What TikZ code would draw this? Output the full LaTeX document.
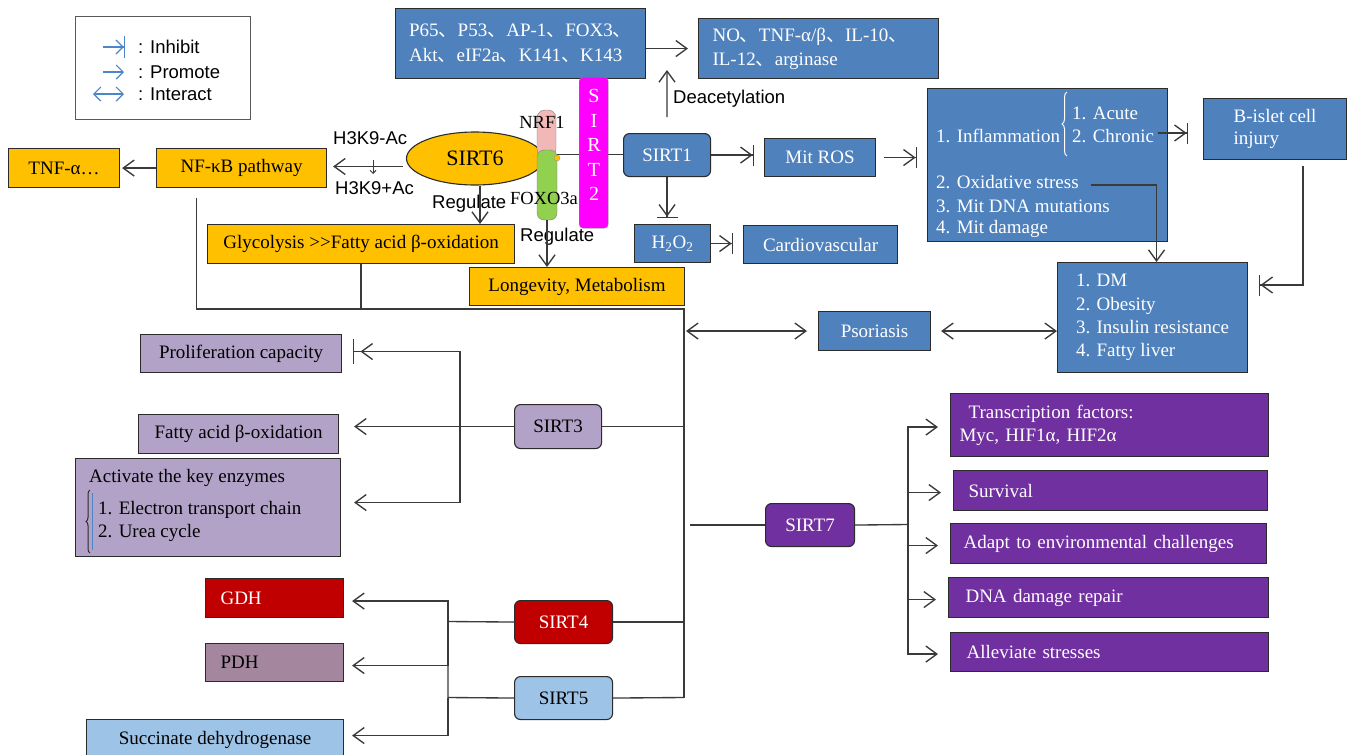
\documentclass[tikz,border=0pt]{standalone}
\usepackage{fontspec}
\setmainfont{Liberation Serif}
\newfontfamily\arialf{Liberation Sans}
\newfontfamily\cjkf{Noto Sans CJK SC}
\usetikzlibrary{arrows.meta,decorations.pathreplacing,calc,shapes.geometric}
\newcommand{\dun}{{\cjkf 、}}
\definecolor{sblue}{HTML}{4F81BD}
\definecolor{sgold}{HTML}{FFC000}
\definecolor{smag}{HTML}{FF00FF}
\definecolor{slav}{HTML}{B3A2C7}
\definecolor{spur}{HTML}{7030A0}
\definecolor{sred}{HTML}{C00000}
\definecolor{smauve}{HTML}{A4879F}
\definecolor{slblue}{HTML}{9DC3E6}
\definecolor{spink}{HTML}{F2B8B8}
\definecolor{sgreen}{HTML}{92D050}
\definecolor{edgec}{HTML}{2B2B2B}
\definecolor{linec}{HTML}{3A3A3A}
\definecolor{legblue}{HTML}{4A86C8}
\begin{document}
\begin{tikzpicture}[x=1pt,y=-1pt,
  txt/.style={font=\fontsize{19}{23.3}\selectfont},
  lab/.style={font=\arialf\fontsize{18.5}{22}\selectfont, inner sep=0pt},
  box/.style={draw=edgec, line width=1.1pt, inner sep=0pt, anchor=north west, txt},
  rbox/.style={rounded corners=6pt},
  wtxt/.style={txt, text=white, inner sep=0pt, anchor=west},
  btxt/.style={txt, text=black, inner sep=0pt, anchor=west},
  pbox/.style={box, fill=spur, text=white, align=left},
  line/.style={draw=linec, line width=1.35pt},
  arr/.style={line, -{Straight Barb[length=11pt,width=16pt]}},
  darr/.style={line, {Straight Barb[length=11pt,width=16pt]}-{Straight Barb[length=11pt,width=16pt]}},
  inh/.style={line, -{Straight Barb[length=11pt,width=16pt] Bar[width=21pt]}},
  inhgap/.style={line, -{Straight Barb[length=11pt,width=16pt,sep=6pt] Bar[width=25pt]}},
  legarr/.style={draw=legblue, line width=1.2pt}
]
\fill[white] (0,0) rectangle (1350,755);
\useasboundingbox (0,0) rectangle (1350,755);

% legend
\node[draw=gray!70!black, line width=1pt, minimum width=175pt, minimum height=103pt, anchor=north west] (legend) at (75,16) {};
\node[lab, anchor=west] (linh) at (138,47) {: Inhibit};
\node[lab, anchor=west] (lpro) at (138,72) {: Promote};
\node[lab, anchor=west] (lint) at (138,94) {: Interact};
\draw[legarr, -{Straight Barb[length=7pt,width=14pt] Bar[width=22pt]}] ($(linh.west)+(-35pt,0)$) -- ($(linh.west)+(-13pt,0)$);
\draw[legarr, -{Straight Barb[length=7pt,width=14pt]}] ($(lpro.west)+(-35pt,0)$) -- ($(lpro.west)+(-14pt,0)$);
\draw[legarr, {Straight Barb[length=7pt,width=14pt]}-{Straight Barb[length=7pt,width=14pt]}] ($(lint.west)+(-45pt,0)$) -- ($(lint.west)+(-14pt,0)$);

% top blue boxes
\node[box, fill=sblue, text=white, minimum width=250pt, minimum height=70pt, align=left, font=\fontsize{19}{25}\selectfont] (p65) at (395,8) {P65\dun P53\dun AP-1\dun FOX3\dun\\Akt\dun eIF2a\dun K141\dun K143};
\node[box, fill=sblue, text=white, minimum width=240pt, minimum height=60pt, align=left, text width=212pt, inner xsep=14pt, font=\fontsize{19}{24}\selectfont] (no) at (698,18) {NO\dun TNF-α/β\dun IL-10\dun\\IL-12\dun arginase};
\coordinate (deacend) at (667,70);
\node[lab, anchor=west] (deac) at (673,99) {Deacetylation};

% gold boxes
\node[box, fill=sgold, minimum width=111pt, minimum height=39pt] (tnf) at (8,148) {TNF-α…};
\node[box, fill=sgold, minimum width=170pt, minimum height=39pt] (nfkb) at (156,148) {NF-κB pathway};
\node[box, fill=sgold, minimum width=307pt, minimum height=39pt] (glyc) at (207,224) {Glycolysis >{}>Fatty acid β-oxidation};
\node[box, fill=sgold, minimum width=215pt, minimum height=38pt] (longev) at (469,267) {Longevity, Metabolism};

% SIRT6 and partners
\node[ellipse, draw=edgec, line width=1.1pt, fill=sgold, minimum width=137pt, minimum height=53pt, inner sep=0pt, font=\fontsize{22}{26}\selectfont] (sirt6) at (475,158.5) {SIRT6};
\node[draw=edgec!60, fill=spink, rounded corners=8pt, minimum width=19pt, minimum height=47pt, inner sep=0pt] (nrf1) at (546.5,133.5) {};
\node[draw=edgec!60, fill=sgreen, rounded corners=7pt, minimum width=20pt, minimum height=70pt, inner sep=0pt] (foxo) at (547,185) {};
\node[circle, fill=sgold, draw=edgec!50, inner sep=0pt, minimum size=6pt] (ydot) at (557,158) {};
\node[inner sep=0pt, font=\fontsize{18.5}{22}\selectfont] (nrflab) at (542,122) {NRF1};
\node[inner sep=0pt, font=\fontsize{18.5}{22}\selectfont] (foxlab) at (544,198) {FOXO3a};
\node[lab, anchor=west] (h3a) at (333,138) {H3K9-Ac};
\node[lab, anchor=west] (h3b) at (335,188) {H3K9+Ac};
\node[lab, anchor=west] (reg1) at (432,204) {Regulate};
\node[lab, anchor=west] (reg2) at (520,237) {Regulate};

% SIRT1 group
\node[box, rbox, fill=sblue, text=white, minimum width=87pt, minimum height=43pt] (sirt1) at (623,133) {SIRT1};
\draw[line] (ydot.north) -- (ydot.north -| sirt1.west);
\node[draw=edgec!60, fill=smag, rounded corners=4pt, minimum width=29pt, minimum height=151pt, inner sep=0pt, anchor=north west] (sirt2) at (579,77) {};
\node[text=white, font=\fontsize{20}{24.5}\selectfont, align=center, inner sep=0pt] (sirt2t) at (594,145) {S\\I\\R\\T\\2};
\node[box, fill=sblue, text=white, minimum width=111pt, minimum height=38pt] (mitros) at (764,138) {Mit ROS};
\node[box, fill=sblue, text=white, minimum width=76pt, minimum height=38pt] (h2o2) at (634,224) {H\textsubscript{2}O\textsubscript{2}};
\node[box, fill=sblue, text=white, minimum width=154pt, minimum height=38pt] (cardio) at (743,225) {Cardiovascular};

% big box
\node[box, fill=sblue, minimum width=240pt, minimum height=153pt] (bigbox) at (927,88) {};
\node[wtxt] (infl) at (936,136) {1. Inflammation};
\node[wtxt] (acute) at (1072,113) {1. Acute};
\node[wtxt] (chronic) at (1072,136) {2. Chronic};
\node[wtxt] (oxid) at (936,182) {2. Oxidative stress};
\node[wtxt] (mitdna) at (936,206) {3. Mit DNA mutations};
\node[wtxt] (mitdam) at (936,229) {4. Mit damage};
\draw[white, line width=1pt, decorate, decoration={brace, amplitude=5pt}] (1067,156) -- (1067,92);

\node[box, fill=sblue, text=white, minimum width=143pt, minimum height=61pt, align=left, font=\fontsize{19}{22}\selectfont] (bislet) at (1203,98) {B-islet cell\\injury};
\node[box, fill=sblue, text=white, minimum width=190pt, minimum height=110pt, align=left] (dm) at (1057,262) {1. DM\\2. Obesity\\3. Insulin resistance\\4. Fatty liver};
\node[box, fill=sblue, text=white, minimum width=112pt, minimum height=39pt] (psor) at (818,311) {Psoriasis};

% SIRT3 group
\node[box, fill=slav, minimum width=201pt, minimum height=38pt] (prolif) at (140,334) {Proliferation capacity};
\node[box, fill=slav, minimum width=200pt, minimum height=39pt] (fatty) at (138,414) {Fatty acid β-oxidation};
\node[box, fill=slav, minimum width=265pt, minimum height=98pt] (activ) at (75,458) {};
\node[btxt] (actt) at (89,478) {Activate the key enzymes};
\node[btxt] (etc) at (98,510) {1. Electron transport chain};
\node[btxt] (urea) at (98,533) {2. Urea cycle};
\draw[edgec, line width=1pt, decorate, decoration={brace, amplitude=4pt}] (90,553) -- (90,490);
\draw[legblue, line width=1.3pt] (92.5,493) -- (92.5,550);
\node[box, rbox, fill=slav, minimum width=87pt, minimum height=44pt] (sirt3) at (514,404) {SIRT3};

% SIRT4/5 group
\node[box, fill=sred, text=white, minimum width=138pt, minimum height=39pt, align=left, text width=108pt, inner xsep=15pt] (gdh) at (205,578) {GDH};
\node[box, fill=smauve, minimum width=138pt, minimum height=38pt, align=left, text width=108pt, inner xsep=15pt] (pdh) at (205,643) {PDH};
\node[box, fill=slblue, minimum width=257pt, minimum height=40pt] (succ) at (86,719) {Succinate dehydrogenase};
\node[box, rbox, fill=sred, text=white, minimum width=98pt, minimum height=43pt] (sirt4) at (514,600) {SIRT4};
\node[box, rbox, fill=slblue, minimum width=98pt, minimum height=43pt] (sirt5) at (514,676) {SIRT5};

% SIRT7 group
\node[box, rbox, fill=spur, text=white, minimum width=89pt, minimum height=43pt] (sirt7) at (765,503) {SIRT7};
\node[pbox, minimum width=318pt, minimum height=63pt, text width=300pt, inner xsep=9pt] (tf) at (950,393) {\hspace{9pt}Transcription factors:\\Myc, HIF1α, HIF2α};
\node[pbox, minimum width=314pt, minimum height=40pt, text width=284pt, inner xsep=15pt] (surv) at (953,470) {Survival};
\node[pbox, minimum width=316pt, minimum height=40pt, text width=290pt, inner xsep=13pt] (adapt) at (950,523) {Adapt to environmental challenges};
\node[pbox, minimum width=316pt, minimum height=40pt, text width=286pt, inner xsep=17pt] (dna) at (948,577) {DNA damage repair};
\node[pbox, minimum width=316pt, minimum height=39pt, text width=286pt, inner xsep=16pt] (allev) at (950,632) {Alleviate stresses};

% connectors top
\draw[arr] (p65.east |- no.west) -- ($(no.west)+(-10pt,0)$);
\draw[arr] ([yshift=16pt]sirt1.north) -- (deacend);
\draw[arr] ($(sirt6.west)+(-3pt,-8pt)$) -- ($(nfkb.east |- sirt6.west)+(6pt,-8pt)$);
\draw[line, -{Straight Barb[length=3pt,width=6pt]}, line width=1pt] ($(h3a.west)+(40pt,-22pt)$) -- ($(h3a.west)+(40pt,-36pt)$);
\draw[arr] (nfkb.west) -- ($(tnf.east)+(2pt,0)$);
\draw[arr] ([xshift=5pt]sirt6.south) -- ([xshift=5pt]sirt6.south |- glyc.north);
\draw[arr] (foxo.south) -- (foxo.south |- longev.north);
\draw[inh] (sirt1.east) -- ($(sirt1.east -| mitros.west)+(-10pt,0)$);
\draw[inh] (sirt1.south) -- ($(h2o2.north -| sirt1.south)+(0,6pt)$);
\draw[inh] (h2o2.east) -- ($(h2o2.east -| cardio.west)+(-10pt,0)$);
\draw[inh] ($(mitros.east)+(8pt,0)$) -- ($(mitros.east -| bigbox.west)+(-10pt,0)$);
\draw[inh] ($(chronic.east)+(4pt,3pt)$) -- ($(chronic.east -| bislet.west)+(-15pt,3pt)$);
\draw[arr] ($(oxid.east)+(12pt,-3pt)$) -| ($(dm.north)+(4pt,0)$);
\draw[inh] ($(bislet.south)+(28pt,-6pt)$) |- ($(dm.north east)+(11pt,-23pt)$);
\draw[darr] ($(psor.east)+(10pt,0)$) -- (psor.east -| dm.west);

% trunk
\coordinate (tc) at (684,309);
\coordinate (tb) at (684,697.5);
\draw[line] ($(nfkb.south)+(-45pt,-10pt)$) |- (tc) -- (tb);
\draw[line] (glyc.south) -- (glyc.south |- tc);
\draw[darr] ($(tc |- psor.west)+(2pt,0)$) -- ($(psor.west)+(-11pt,0)$);
\draw[line] (sirt3.east) -- (sirt3.east -| tc);
\draw[line] (sirt4.east) -- (sirt4.east -| tc);
\draw[line] (sirt5.east) -- (tb);
\draw[line] ($(tc |- sirt7.west)+(6pt,0)$) -- (sirt7.west);

% SIRT3 fan
\coordinate (s3j) at (460,426);
\draw[arr] (sirt3.west) -- ($(sirt3.west -| fatty.east)+(15pt,0)$);
\draw[inhgap] (s3j) |- ($(prolif.east)+(11pt,2pt)$);
\draw[arr] (s3j) |- ($(activ.east)+(13pt,5pt)$);

% SIRT4/5 fan
\coordinate (s4j) at (448,621.5);
\coordinate (s5j) at (448,697.5);
\draw[line] (sirt4.west) -- (s4j) -- (s5j) -- (sirt5.west);
\draw[arr] (s4j) |- ($(gdh.east)+(8pt,-3pt)$);
\draw[arr] (s4j) |- ($(pdh.east)+(8pt,-3pt)$);
\draw[arr] (s5j) |- ($(succ.east)+(8pt,4pt)$);

% SIRT7 fan
\coordinate (s7j) at (908,524.5);
\draw[line] (sirt7.east) -- (s7j);
\foreach \b in {tf,surv,adapt,dna,allev}
  \draw[arr] (s7j) |- ($(\b.west)+(-12pt,-2pt)$);
\end{tikzpicture}
\end{document}
